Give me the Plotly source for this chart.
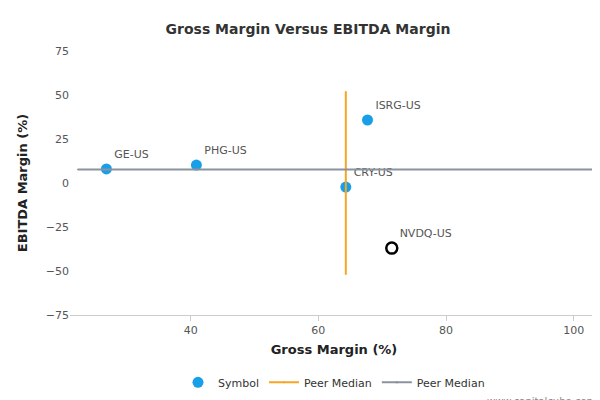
import plotly.graph_objects as go

# data
symbols = ["GE-US", "PHG-US", "ISRG-US", "CRY-US"]
gross_margin = [26.8, 40.9, 67.7, 64.3]
ebitda_margin = [8.0, 10.2, 35.8, -2.3]

target = "NVDQ-US"
target_gross = 71.5
target_ebitda = -37.0

peer_gross_median = 64.3
peer_ebitda_median = 7.7
vline_y = [-52, 52]
hline_x = [22.3, 103]

blue = "#199ee8"
font = "DejaVu Sans, Arial, sans-serif"

fig = go.Figure()
fig.add_trace(go.Scatter(
    x=gross_margin, y=ebitda_margin, mode="markers+text", name="Symbol",
    text=symbols, textposition="top right", textfont=dict(size=11, color="#555"),
    marker=dict(size=11, color=blue)))
fig.add_trace(go.Scatter(
    x=[target_gross], y=[target_ebitda], mode="markers+text", showlegend=False,
    text=[target], textposition="top right", textfont=dict(size=11, color="#555"),
    marker=dict(size=11, color="white", line=dict(color="black", width=2.5))))
fig.add_trace(go.Scatter(
    x=[peer_gross_median] * 2, y=vline_y, mode="lines+markers", name="Peer Median",
    line=dict(color="#f6a623", width=2), marker=dict(symbol="diamond", size=1, color="#f6a623")))
fig.add_trace(go.Scatter(
    x=hline_x, y=[peer_ebitda_median] * 2, mode="lines+markers", name="Peer Median",
    line=dict(color="#8a93a0", width=2), marker=dict(symbol="square", size=1, color="#8a93a0")))

fig.update_layout(
    width=600, height=400, paper_bgcolor="white", plot_bgcolor="white",
    margin=dict(l=62, r=10, t=43, b=93),
    font=dict(family=font, size=11, color="#555"),
    title=dict(text="<b>Gross Margin Versus EBITDA Margin</b>", x=0.5, y=0.96,
               font=dict(size=14, color="#333")),
    xaxis=dict(title=dict(text="<b>Gross Margin (%)</b>", font=dict(size=13, color="#222"), standoff=8),
               range=[21.1, 103.8], tickvals=[40, 60, 80, 100], showgrid=False, zeroline=False,
               showline=True, linecolor="#ccc", ticks="outside", tickcolor="#ccc"),
    yaxis=dict(title=dict(text="<b>EBITDA Margin (%)</b>", font=dict(size=13, color="#222")),
               range=[-75, 75], tickvals=[-75, -50, -25, 0, 25, 50, 75], showgrid=False,
               zeroline=False),
    legend=dict(orientation="h", x=0.5, xanchor="center", y=-0.2, yanchor="top",
                font=dict(size=11, color="#333")),
)
fig.add_annotation(text="www.capitalcube.com", xref="paper", yref="paper", x=1.0, y=-0.3,
                   xanchor="right", yanchor="top", showarrow=False,
                   font=dict(size=10, color="#888"))

fig.write_html("out.html")
